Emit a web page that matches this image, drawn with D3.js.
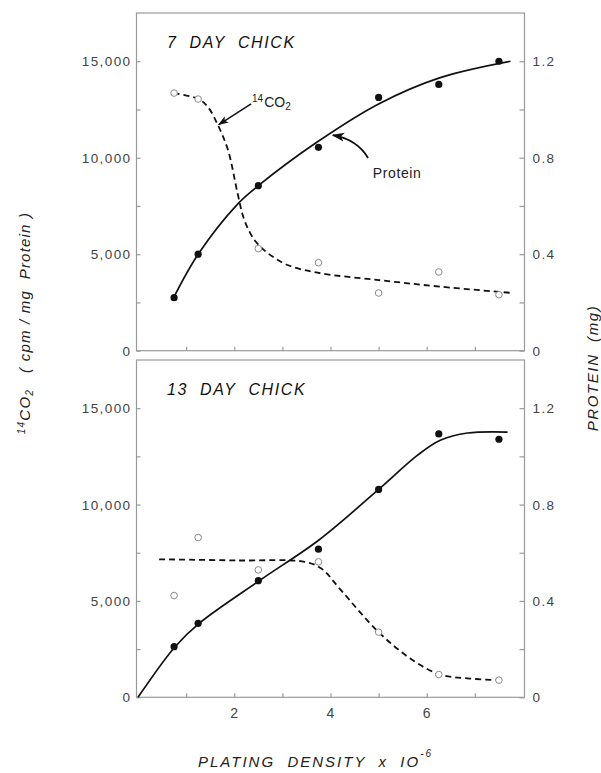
<!DOCTYPE html>
<html>
<head>
<meta charset="utf-8">
<script src="https://cdn.jsdelivr.net/npm/d3@7"></script>
<style>
  body { margin: 0; background: #fff; }
  svg { display: block; }
  text { font-family: 'Liberation Sans', Arial, sans-serif; }
</style>
</head>
<body>
<svg id="chart" width="601" height="773"></svg>
<script>
// plating density (x 10^6) of the measured cultures
const density = [0.75, 1.25, 2.5, 3.75, 5.0, 6.25, 7.5];

// 7 day chick
const protein7 = [0.22, 0.40, 0.684, 0.843, 1.05, 1.104, 1.20];
const co2_7 = [13350, 13040, 5290, 4560, 2990, 4080, 2900];

// 13 day chick
const protein13 = [0.21, 0.307, 0.484, 0.615, 0.863, 1.093, 1.071];
const co2_13 = [5280, 8290, 6610, 7030, 3380, 1180, 890];

// hand drawn fitted curves
const fitProtein7X = [0.74, 1.25, 2.07, 2.5, 3.73, 5.0, 6.28, 7.74];
const fitProtein7Y = [0.22, 0.40, 0.608, 0.684, 0.866, 1.023, 1.132, 1.20];
const fitCo2_7X = [0.74, 1.25, 1.45, 1.66, 1.87, 2.07, 2.21, 2.42, 2.70, 3.11, 3.73, 5.0, 6.28, 7.74];
const fitCo2_7Y = [13350, 13050, 12640, 11690, 10400, 8150, 6770, 5740, 5050, 4440, 4040, 3660, 3320, 3000];

const fitProtein13X = [0, 0.77, 1.27, 2.52, 3.76, 5.0, 5.81, 6.28, 6.85, 7.68];
const fitProtein13Y = [0, 0.21, 0.307, 0.484, 0.653, 0.863, 1.005, 1.067, 1.097, 1.101];
const fitCo2_13X = [0.44, 2.07, 3.46, 3.81, 4.23, 5.0, 5.71, 6.28, 6.85, 7.52];
const fitCo2_13Y = [7160, 7100, 7030, 6680, 5520, 3380, 1920, 1180, 980, 890];

// axis ticks
const xTickValues = [1, 2, 3, 4, 5, 6, 7];
const xTickLabels = [2, 4, 6];
const cpmTicks = [0, 2500, 5000, 7500, 10000, 12500, 15000];
const cpmLabels = [0, 5000, 10000, 15000];
const proteinTicks = [0, 0.2, 0.4, 0.6, 0.8, 1.0, 1.2];
const proteinLabels = [0, 0.4, 0.8, 1.2];

const panelTitles = ['7  DAY  CHICK', '13  DAY  CHICK'];

const svg = d3.select('#chart');
const left = 136.5, right = 524.5;
const panels = [
  { top: 13, bottom: 350.7, title: panelTitles[0],
    protein: protein7, co2: co2_7,
    fitP: [fitProtein7X, fitProtein7Y], fitC: [fitCo2_7X, fitCo2_7Y] },
  { top: 360, bottom: 697.3, title: panelTitles[1],
    protein: protein13, co2: co2_13,
    fitP: [fitProtein13X, fitProtein13Y], fitC: [fitCo2_13X, fitCo2_13Y] }
];

const x = d3.scaleLinear().domain([0, 8]).range([138, 523]);
const axisGrey = '#9a9a9a';
const labelGrey = '#444';

const defs = svg.append('defs');
defs.append('marker')
  .attr('id', 'arrow')
  .attr('viewBox', '0 0 10 10')
  .attr('refX', 9).attr('refY', 5)
  .attr('markerWidth', 7).attr('markerHeight', 7)
  .attr('orient', 'auto-start-reverse')
  .append('path')
  .attr('d', 'M0,1.5 L10,5 L0,8.5 L2.5,5 Z')
  .attr('fill', '#111');

const fmt = d3.format(',');

panels.forEach((p, i) => {
  const yCpm = d3.scaleLinear().domain([0, 17500]).range([p.bottom, p.top]);
  const yProt = d3.scaleLinear().domain([0, 1.4]).range([p.bottom, p.top]);
  const g = svg.append('g');

  // frame
  g.append('rect')
    .attr('x', left).attr('y', p.top)
    .attr('width', right - left).attr('height', p.bottom - p.top)
    .attr('fill', 'none')
    .attr('stroke', axisGrey)
    .attr('stroke-width', 1.2);

  // left axis (cpm)
  const leftAxis = d3.axisLeft(yCpm)
    .tickValues(cpmTicks)
    .tickSizeInner(-4).tickSizeOuter(0)
    .tickFormat('');
  g.append('g').attr('transform', `translate(${left},0)`).call(leftAxis)
    .call(a => a.select('.domain').remove())
    .call(a => a.selectAll('line').attr('stroke', axisGrey).attr('stroke-width', 1.2));
  g.selectAll('.cpm-label')
    .data(cpmLabels)
    .enter().append('text')
    .attr('class', 'cpm-label')
    .attr('x', left - 5)
    .attr('y', d => yCpm(d) + 5)
    .attr('text-anchor', 'end')
    .attr('font-size', 13.5)
    .attr('letter-spacing', 1.4)
    .attr('fill', labelGrey)
    .text(d => fmt(d));

  // right axis (protein)
  const rightAxis = d3.axisRight(yProt)
    .tickValues(proteinTicks)
    .tickSizeInner(-5).tickSizeOuter(0)
    .tickFormat('');
  g.append('g').attr('transform', `translate(${right},0)`).call(rightAxis)
    .call(a => a.select('.domain').remove())
    .call(a => a.selectAll('line').attr('stroke', axisGrey).attr('stroke-width', 1.2));
  g.selectAll('.prot-label')
    .data(proteinLabels)
    .enter().append('text')
    .attr('class', 'prot-label')
    .attr('x', right + 8)
    .attr('y', d => yProt(d) + 5)
    .attr('font-size', 13.5)
    .attr('letter-spacing', 1.4)
    .attr('fill', labelGrey)
    .text(d => d === 0 ? '0' : d3.format('.1f')(d));

  // bottom ticks (inward)
  const bottomAxis = d3.axisBottom(x)
    .tickValues(xTickValues)
    .tickSizeInner(-4).tickSizeOuter(0)
    .tickFormat('');
  g.append('g').attr('transform', `translate(0,${p.bottom})`).call(bottomAxis)
    .call(a => a.select('.domain').remove())
    .call(a => a.selectAll('line').attr('stroke', axisGrey).attr('stroke-width', 1.2));

  if (i === 1) {
    g.selectAll('.x-label')
      .data(xTickLabels)
      .enter().append('text')
      .attr('x', d => x(d))
      .attr('y', p.bottom + 21)
      .attr('text-anchor', 'middle')
      .attr('font-size', 14)
      .attr('fill', labelGrey)
      .text(d => d);
  }

  // panel title
  g.append('text')
    .attr('x', 167).attr('y', p.top + 35)
    .attr('font-size', 16)
    .attr('font-style', 'italic')
    .attr('letter-spacing', 1.6)
    .attr('fill', '#111')
    .attr('xml:space', 'preserve')
    .text(p.title);

  // fitted curves
  const protLine = d3.line()
    .x(d => x(d[0])).y(d => yProt(d[1]))
    .curve(d3.curveCatmullRom.alpha(0.5));
  const cpmLine = d3.line()
    .x(d => x(d[0])).y(d => yCpm(d[1]))
    .curve(d3.curveCatmullRom.alpha(0.5));

  g.append('path')
    .datum(d3.zip(p.fitC[0], p.fitC[1]))
    .attr('d', cpmLine)
    .attr('fill', 'none')
    .attr('stroke', '#111')
    .attr('stroke-width', 1.8)
    .attr('stroke-dasharray', '6,4');

  g.append('path')
    .datum(d3.zip(p.fitP[0], p.fitP[1]))
    .attr('d', protLine)
    .attr('fill', 'none')
    .attr('stroke', '#111')
    .attr('stroke-width', 1.7);

  // measured points
  g.selectAll('.co2-pt')
    .data(d3.zip(density, p.co2))
    .enter().append('circle')
    .attr('class', 'co2-pt')
    .attr('cx', d => x(d[0]))
    .attr('cy', d => yCpm(d[1]))
    .attr('r', 3.3)
    .attr('fill', '#fff')
    .attr('stroke', '#8a8a8a')
    .attr('stroke-width', 1);

  g.selectAll('.prot-pt')
    .data(d3.zip(density, p.protein))
    .enter().append('circle')
    .attr('class', 'prot-pt')
    .attr('cx', d => x(d[0]))
    .attr('cy', d => yProt(d[1]))
    .attr('r', 3.6)
    .attr('fill', '#111');

  if (i === 0) {
    // 14CO2 annotation
    const co2Text = g.append('text')
      .attr('x', x(2.37)).attr('y', yCpm(12630))
      .attr('font-size', 14)
      .attr('fill', '#222');
    co2Text.append('tspan').attr('font-size', 10).attr('dy', -5).text('14');
    co2Text.append('tspan').attr('dy', 5).attr('dx', 1).text('CO');
    co2Text.append('tspan').attr('font-size', 10).attr('dy', 3).text('2');

    g.append('path')
      .attr('d', `M${x(2.35)},${yCpm(12790)} L${x(1.68)},${yCpm(11720)}`)
      .attr('stroke', '#111').attr('stroke-width', 1.5)
      .attr('fill', 'none')
      .attr('marker-end', 'url(#arrow)');

    // Protein annotation
    g.append('text')
      .attr('x', x(4.88)).attr('y', yCpm(8950))
      .attr('font-size', 14)
      .attr('letter-spacing', 0.6)
      .attr('fill', '#222')
      .text('Protein');

    g.append('path')
      .attr('d', `M${x(4.78)},${yCpm(9990)} Q${x(4.55)},${yCpm(10950)} ${x(4.05)},${yCpm(11170)}`)
      .attr('stroke', '#111').attr('stroke-width', 1.8)
      .attr('fill', 'none')
      .attr('marker-end', 'url(#arrow)');
  }
});

// axis titles
const yTitle = svg.append('text')
  .attr('transform', 'translate(30,323) rotate(-90)')
  .attr('text-anchor', 'middle')
  .attr('font-size', 15)
  .attr('font-style', 'italic')
  .attr('letter-spacing', 1.2)
  .attr('fill', '#222')
  .attr('xml:space', 'preserve');
yTitle.append('tspan').attr('font-size', 10).attr('dy', -5).text('14');
yTitle.append('tspan').attr('dy', 5).text('CO');
yTitle.append('tspan').attr('font-size', 10).attr('dy', 3).text('2');
yTitle.append('tspan').attr('dy', -3).text('   ( cpm / mg  Protein )');

svg.append('text')
  .attr('transform', 'translate(598,368) rotate(-90)')
  .attr('text-anchor', 'middle')
  .attr('font-size', 15)
  .attr('font-style', 'italic')
  .attr('letter-spacing', 1.6)
  .attr('fill', '#222')
  .attr('xml:space', 'preserve')
  .text('PROTEIN  (mg)');

const xTitle = svg.append('text')
  .attr('x', 198).attr('y', 767)
  .attr('font-size', 15)
  .attr('font-style', 'italic')
  .attr('letter-spacing', 2)
  .attr('fill', '#222')
  .attr('xml:space', 'preserve');
xTitle.append('tspan').text('PLATING  DENSITY  x  IO');
xTitle.append('tspan').attr('font-size', 10).attr('dy', -10).text('-6');
</script>
</body>
</html>
